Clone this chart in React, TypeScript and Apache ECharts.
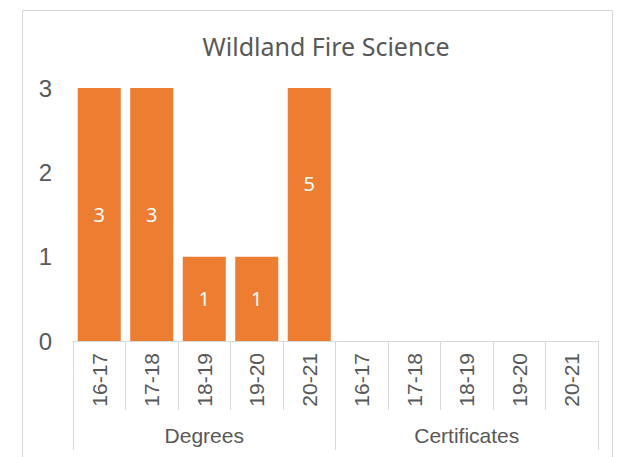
import React, { useEffect, useRef } from "react";
import * as echarts from "echarts";

const years = ["16-17", "17-18", "18-19", "19-20", "20-21"];
const groups = ["Degrees", "Certificates"];
const degrees = [3, 3, 1, 1, 5];
const certificates: (number | null)[] = [null, null, null, null, null];
const yMin = 0;
const yMax = 3;
const yInterval = 1;
const title = "Wildland Fire Science";

export default function App() {
  const ref = useRef<HTMLDivElement>(null);
  useEffect(() => {
    if (!ref.current) return;
    const chart = echarts.init(ref.current, null, { renderer: "svg" });
    const categories = groups.flatMap(() => years);
    const values = [...degrees, ...certificates];
    const grey = "#595959";
    const line = "#D9D9D9";
    // values above the axis max are clipped; their label sits higher as in the source
    const data = values.map((v) =>
      v != null && v > yMax ? { value: v, label: { offset: [0, -31] } } : v
    );
    chart.setOption({
      animation: false,
      backgroundColor: "#fff",
      title: {
        text: title,
        left: 321,
        top: 28,
        textAlign: "center",
        textStyle: { fontFamily: "Noto Sans", fontSize: 25, fontWeight: "normal", color: grey },
      },
      graphic: [
        {
          type: "rect",
          shape: { x: 22.5, y: 10.5, width: 590, height: 460 },
          style: { fill: "none", stroke: line, lineWidth: 1 },
          silent: true,
        },
      ],
      grid: { left: 73, right: 24, top: 88, bottom: 116 },
      xAxis: [
        {
          type: "category",
          data: categories,
          position: "bottom",
          axisLine: { show: true, lineStyle: { color: line } },
          axisTick: { show: true, length: 69, lineStyle: { color: line } },
          axisLabel: {
            rotate: 90,
            interval: 0,
            margin: 12,
            color: grey,
            fontFamily: "Liberation Sans",
            fontSize: 21,
          },
        },
        {
          type: "category",
          data: groups,
          position: "bottom",
          axisLine: { show: false },
          axisTick: { show: true, length: 109, lineStyle: { color: line } },
          axisLabel: {
            interval: 0,
            margin: 84,
            color: grey,
            fontFamily: "Liberation Sans",
            fontSize: 21,
          },
        },
      ],
      yAxis: {
        type: "value",
        min: yMin,
        max: yMax,
        interval: yInterval,
        axisLine: { show: false },
        axisTick: { show: false },
        splitLine: { show: false },
        axisLabel: { color: grey, fontFamily: "Liberation Sans", fontSize: 24, margin: 21 },
      },
      series: [
        {
          type: "bar",
          xAxisIndex: 0,
          data,
          barCategoryGap: "18%",
          clip: true,
          itemStyle: { color: "#ED7D31" },
          label: {
            show: true,
            position: "inside",
            color: "#fff",
            fontFamily: "Noto Sans",
            fontSize: 20,
          },
        },
      ],
    });
    return () => chart.dispose();
  }, []);
  return <div ref={ref} style={{ position: "fixed", left: 0, top: 0, width: 622, height: 457 }} />;
}
